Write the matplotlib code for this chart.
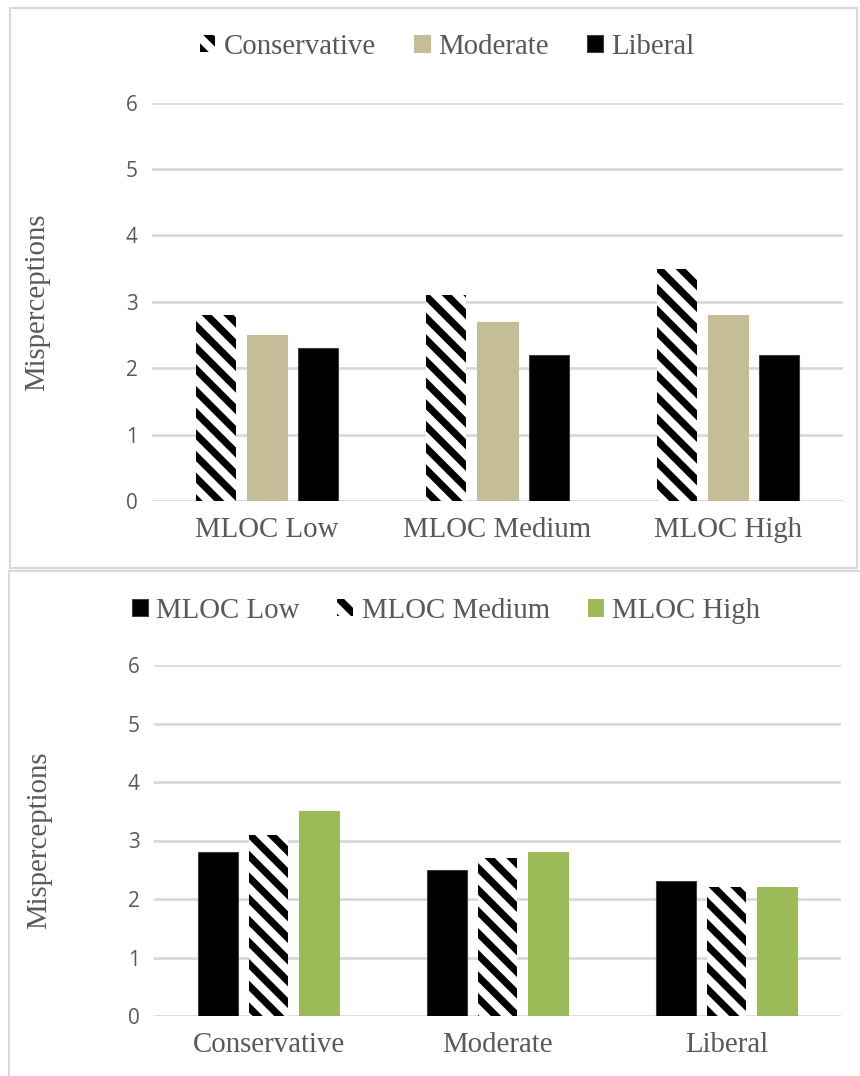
import numpy as np
import matplotlib.pyplot as plt
from matplotlib.patches import Rectangle

# Mean misperceptions by MLOC level and political ideology
mloc_levels = ['MLOC Low', 'MLOC Medium', 'MLOC High']
ideologies = ['Conservative', 'Moderate', 'Liberal']
conservative = [2.8, 3.1, 3.5]
moderate = [2.5, 2.7, 2.8]
liberal = [2.3, 2.2, 2.2]

# Same numbers regrouped by ideology
mloc_low = [2.8, 2.5, 2.3]
mloc_medium = [3.1, 2.7, 2.2]
mloc_high = [3.5, 2.8, 2.2]

yticks = [0, 1, 2, 3, 4, 5, 6]

TEXT = '#595959'
GRID = '#d9d9d9'
TAN = '#c4bd97'
GREEN = '#9bbb59'
SERIF = 'Liberation Serif'
FS = 16

plt.rcParams['hatch.linewidth'] = 4.0
DPI = 130
fig = plt.figure(figsize=(860 / DPI, 1076 / DPI), dpi=DPI)

W, H = 860, 1076


def px_axes(left, right, top, bottom):
    return fig.add_axes([left / W, 1 - bottom / H, (right - left) / W, (bottom - top) / H])


# light grey frames around each panel
fig.patches.append(Rectangle((10 / W, 1 - 568 / H), 847 / W, 560 / H, transform=fig.transFigure,
                             fill=False, edgecolor=GRID, linewidth=1.2))
fig.patches.append(Rectangle((9 / W, 1 - 1080 / H), 860 / W, 509 / H, transform=fig.transFigure,
                             fill=False, edgecolor=GRID, linewidth=1.2))

bar_w = 0.174
offset = 0.222


def style_axes(ax, labels):
    ax.set_xlim(-0.5, 2.5)
    ax.set_ylim(0, 6)
    ax.set_yticks(yticks)
    ax.set_yticklabels([str(t) for t in yticks], fontsize=11.5, color=TEXT, family='Open Sans')
    ax.set_xticks(range(3))
    ax.set_xticklabels(labels, fontsize=FS, color=TEXT, family=SERIF)
    ax.tick_params(axis='y', length=0, pad=8)
    ax.tick_params(axis='x', length=0, pad=9)
    ax.grid(axis='y', color=GRID, linewidth=1.5)
    ax.set_axisbelow(True)
    for s in ax.spines.values():
        s.set_visible(False)
    ax.set_ylabel('Misperceptions', fontsize=FS, color=TEXT, family=SERIF)
    ax.yaxis.set_label_coords(-0.148, 0.5)


def draw_bar(ax, xs, vals, kind, label):
    if kind == 'hatch':
        return ax.bar(xs, vals, bar_w, facecolor='white', edgecolor='black', hatch='\\\\',
                      linewidth=0, label=label)
    return ax.bar(xs, vals, bar_w, color=kind, edgecolor=kind if kind != 'black' else '#404040',
                  linewidth=0.6, label=label)


def add_legend(ax, cx, cy):
    ax.legend(loc='center', bbox_to_anchor=(cx / W, 1 - cy / H), bbox_transform=fig.transFigure,
              ncol=3, frameon=False, prop={'family': SERIF, 'size': FS}, labelcolor=TEXT,
              handlelength=0.55, handleheight=0.55, handletextpad=0.3, columnspacing=1.3)


x = np.arange(3)

# top panel: grouped by MLOC level
ax1 = px_axes(152, 843, 102.7, 501)
draw_bar(ax1, x - offset, conservative, 'hatch', ideologies[0])
draw_bar(ax1, x, moderate, TAN, ideologies[1])
draw_bar(ax1, x + offset, liberal, 'black', ideologies[2])
style_axes(ax1, mloc_levels)
add_legend(ax1, 447, 47)

# bottom panel: grouped by ideology
ax2 = px_axes(154, 841, 665, 1016)
draw_bar(ax2, x - offset, mloc_low, 'black', mloc_levels[0])
draw_bar(ax2, x, mloc_medium, 'hatch', mloc_levels[1])
draw_bar(ax2, x + offset, mloc_high, GREEN, mloc_levels[2])
style_axes(ax2, ideologies)
add_legend(ax2, 446, 611)

fig.savefig('out.png', dpi=DPI, facecolor='white')
